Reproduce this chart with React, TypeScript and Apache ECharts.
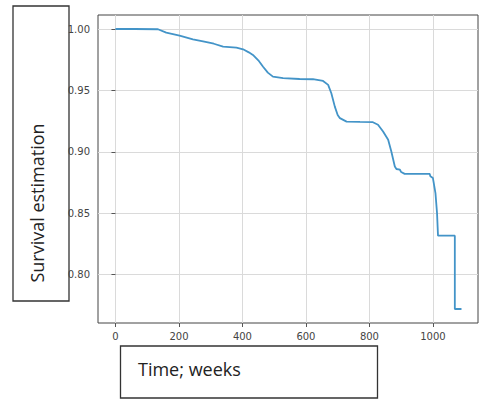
import React, { useEffect, useRef } from "react";
import * as echarts from "echarts";

const weeks = [0, 60, 134, 160, 202, 244, 276, 310, 339, 381, 402, 420, 433, 450, 465, 480, 496, 528, 580, 622, 654, 670, 680, 691, 700, 707, 728, 770, 811, 827, 843, 859, 869, 880, 885, 896, 900, 911, 990, 992, 1000, 1008, 1013, 1016, 1069, 1069, 1090];
const survival = [1.0, 1.0, 0.9998, 0.997, 0.9946, 0.9916, 0.99, 0.988, 0.9856, 0.9848, 0.9835, 0.981, 0.9789, 0.9745, 0.9693, 0.9645, 0.9612, 0.96, 0.9593, 0.9591, 0.9577, 0.9545, 0.9477, 0.9368, 0.93, 0.9274, 0.9246, 0.9243, 0.9241, 0.922, 0.9165, 0.9098, 0.9003, 0.888, 0.886, 0.8854, 0.8835, 0.882, 0.882, 0.88, 0.8786, 0.8664, 0.85, 0.8317, 0.8317, 0.772, 0.772];
const xTicks = [0, 200, 400, 600, 800, 1000];
const yTicks = [0.8, 0.85, 0.9, 0.95, 1.0];
const xLabel = "Time; weeks";
const yLabel = "Survival estimation";

export default function App() {
  const ref = useRef<HTMLDivElement>(null);
  useEffect(() => {
    document.body.style.margin = "0";
    const chart = echarts.init(ref.current!, null, { renderer: "svg" });
    const gridColor = "#dadada";
    chart.setOption({
      animation: false,
      backgroundColor: "#ffffff",
      grid: {
        left: 98,
        top: 15,
        right: 5,
        bottom: 79,
        show: true,
        borderColor: "#444",
        borderWidth: 1,
        backgroundColor: "transparent",
      },
      xAxis: {
        type: "value",
        min: -55,
        max: 1142,
        axisLine: { show: false },
        axisTick: { show: true, length: 4, lineStyle: { color: "#555" }, customValues: xTicks },
        axisLabel: {
          customValues: xTicks,
          color: "#444",
          fontSize: 10,
          margin: 8,
          fontFamily: "DejaVu Sans",
          formatter: (v: number) => String(v),
        },
        splitLine: { show: true, lineStyle: { color: gridColor, width: 1 } },
      },
      yAxis: {
        type: "value",
        min: 0.7606,
        max: 1.0114,
        axisLine: { show: false },
        axisTick: { show: true, length: 4, lineStyle: { color: "#555" }, customValues: yTicks },
        axisLabel: {
          customValues: yTicks,
          color: "#444",
          fontSize: 10,
          margin: 8,
          fontFamily: "DejaVu Sans",
          formatter: (v: number) => v.toFixed(2),
        },
        splitLine: { show: true, lineStyle: { color: gridColor, width: 1 } },
      },
      series: [
        {
          type: "line",
          data: weeks.map((w, i) => [w, survival[i]]),
          showSymbol: false,
          lineStyle: { color: "#4394c8", width: 1.8 },
          z: 3,
        },
      ],
      graphic: [
        {
          type: "rect",
          shape: { x: 13, y: 6, width: 56, height: 295 },
          style: { fill: "transparent", stroke: "#333", lineWidth: 1.3 },
        },
        {
          type: "text",
          x: 37,
          y: 203,
          rotation: Math.PI / 2,
          style: {
            text: yLabel,
            fontSize: 18,
            fontFamily: "Open Sans",
            fill: "#222",
            align: "center",
            verticalAlign: "middle",
          },
        },
        {
          type: "rect",
          shape: { x: 120.5, y: 346, width: 257, height: 52 },
          style: { fill: "transparent", stroke: "#333", lineWidth: 1.3 },
        },
        {
          type: "text",
          x: 138,
          y: 369,
          style: {
            text: xLabel,
            fontSize: 18,
            fontFamily: "Open Sans",
            fill: "#222",
            align: "left",
            verticalAlign: "middle",
          },
        },
      ],
    });
    return () => chart.dispose();
  }, []);
  return <div ref={ref} style={{ width: 483, height: 402 }} />;
}
